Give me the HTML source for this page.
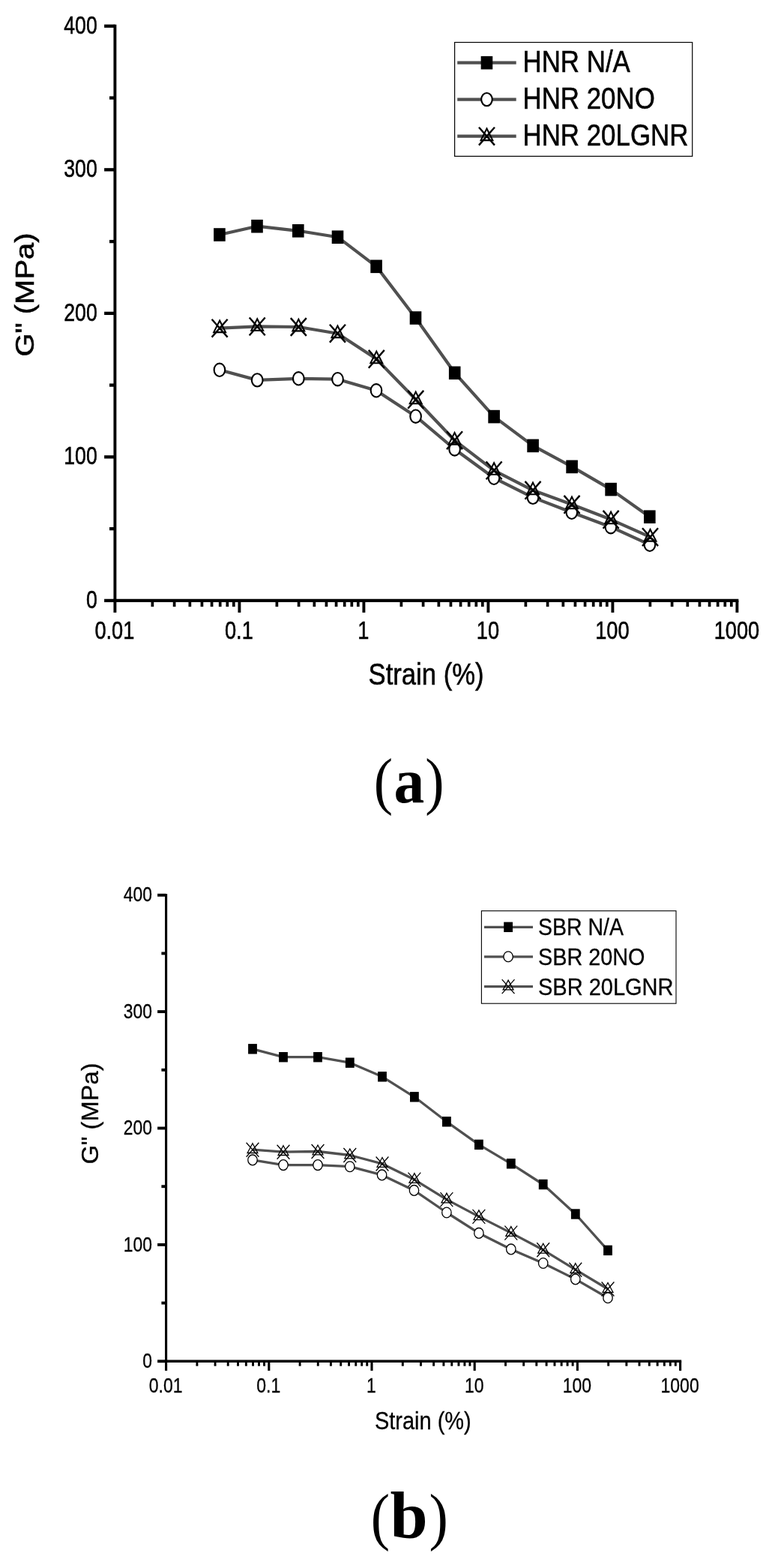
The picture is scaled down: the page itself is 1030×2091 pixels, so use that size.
<!DOCTYPE html>
<html lang="en"><head><meta charset="utf-8"><title>G&quot; vs Strain</title>
<style>html,body{margin:0;padding:0;background:#fff}svg{display:block}text{fill:#000}</style></head><body>
<svg width="1030" height="2091" viewBox="0 0 1030 2091">
<rect width="1030" height="2091" fill="#fff"/>
<g stroke="#000" fill="none" stroke-linecap="butt">
<line x1="153.40" y1="32.63" x2="153.40" y2="803.05" stroke-width="3.9"/>
<line x1="151.45" y1="800.90" x2="985.35" y2="800.90" stroke-width="4.3"/>
<line x1="139.10" y1="800.90" x2="153.40" y2="800.90" stroke-width="4.3"/>
<line x1="146.00" y1="705.13" x2="153.40" y2="705.13" stroke-width="4.3"/>
<line x1="139.10" y1="609.37" x2="153.40" y2="609.37" stroke-width="4.3"/>
<line x1="146.00" y1="513.61" x2="153.40" y2="513.61" stroke-width="4.3"/>
<line x1="139.10" y1="417.84" x2="153.40" y2="417.84" stroke-width="4.3"/>
<line x1="146.00" y1="322.07" x2="153.40" y2="322.07" stroke-width="4.3"/>
<line x1="139.10" y1="226.31" x2="153.40" y2="226.31" stroke-width="4.3"/>
<line x1="146.00" y1="130.54" x2="153.40" y2="130.54" stroke-width="4.3"/>
<line x1="139.10" y1="34.78" x2="153.40" y2="34.78" stroke-width="4.3"/>
<line x1="153.40" y1="800.90" x2="153.40" y2="816.90" stroke-width="3.9"/>
<line x1="203.37" y1="800.90" x2="203.37" y2="809.10" stroke-width="3.70"/>
<line x1="232.60" y1="800.90" x2="232.60" y2="809.10" stroke-width="3.70"/>
<line x1="253.34" y1="800.90" x2="253.34" y2="809.10" stroke-width="3.70"/>
<line x1="269.43" y1="800.90" x2="269.43" y2="809.10" stroke-width="3.70"/>
<line x1="282.57" y1="800.90" x2="282.57" y2="809.10" stroke-width="3.70"/>
<line x1="293.69" y1="800.90" x2="293.69" y2="809.10" stroke-width="3.70"/>
<line x1="303.31" y1="800.90" x2="303.31" y2="809.10" stroke-width="3.70"/>
<line x1="311.80" y1="800.90" x2="311.80" y2="809.10" stroke-width="3.70"/>
<line x1="319.40" y1="800.90" x2="319.40" y2="816.90" stroke-width="3.9"/>
<line x1="369.37" y1="800.90" x2="369.37" y2="809.10" stroke-width="3.70"/>
<line x1="398.60" y1="800.90" x2="398.60" y2="809.10" stroke-width="3.70"/>
<line x1="419.34" y1="800.90" x2="419.34" y2="809.10" stroke-width="3.70"/>
<line x1="435.43" y1="800.90" x2="435.43" y2="809.10" stroke-width="3.70"/>
<line x1="448.57" y1="800.90" x2="448.57" y2="809.10" stroke-width="3.70"/>
<line x1="459.69" y1="800.90" x2="459.69" y2="809.10" stroke-width="3.70"/>
<line x1="469.31" y1="800.90" x2="469.31" y2="809.10" stroke-width="3.70"/>
<line x1="477.80" y1="800.90" x2="477.80" y2="809.10" stroke-width="3.70"/>
<line x1="485.40" y1="800.90" x2="485.40" y2="816.90" stroke-width="3.9"/>
<line x1="535.37" y1="800.90" x2="535.37" y2="809.10" stroke-width="3.70"/>
<line x1="564.60" y1="800.90" x2="564.60" y2="809.10" stroke-width="3.70"/>
<line x1="585.34" y1="800.90" x2="585.34" y2="809.10" stroke-width="3.70"/>
<line x1="601.43" y1="800.90" x2="601.43" y2="809.10" stroke-width="3.70"/>
<line x1="614.57" y1="800.90" x2="614.57" y2="809.10" stroke-width="3.70"/>
<line x1="625.69" y1="800.90" x2="625.69" y2="809.10" stroke-width="3.70"/>
<line x1="635.31" y1="800.90" x2="635.31" y2="809.10" stroke-width="3.70"/>
<line x1="643.80" y1="800.90" x2="643.80" y2="809.10" stroke-width="3.70"/>
<line x1="651.40" y1="800.90" x2="651.40" y2="816.90" stroke-width="3.9"/>
<line x1="701.37" y1="800.90" x2="701.37" y2="809.10" stroke-width="3.70"/>
<line x1="730.60" y1="800.90" x2="730.60" y2="809.10" stroke-width="3.70"/>
<line x1="751.34" y1="800.90" x2="751.34" y2="809.10" stroke-width="3.70"/>
<line x1="767.43" y1="800.90" x2="767.43" y2="809.10" stroke-width="3.70"/>
<line x1="780.57" y1="800.90" x2="780.57" y2="809.10" stroke-width="3.70"/>
<line x1="791.69" y1="800.90" x2="791.69" y2="809.10" stroke-width="3.70"/>
<line x1="801.31" y1="800.90" x2="801.31" y2="809.10" stroke-width="3.70"/>
<line x1="809.80" y1="800.90" x2="809.80" y2="809.10" stroke-width="3.70"/>
<line x1="817.40" y1="800.90" x2="817.40" y2="816.90" stroke-width="3.9"/>
<line x1="867.37" y1="800.90" x2="867.37" y2="809.10" stroke-width="3.70"/>
<line x1="896.60" y1="800.90" x2="896.60" y2="809.10" stroke-width="3.70"/>
<line x1="917.34" y1="800.90" x2="917.34" y2="809.10" stroke-width="3.70"/>
<line x1="933.43" y1="800.90" x2="933.43" y2="809.10" stroke-width="3.70"/>
<line x1="946.57" y1="800.90" x2="946.57" y2="809.10" stroke-width="3.70"/>
<line x1="957.69" y1="800.90" x2="957.69" y2="809.10" stroke-width="3.70"/>
<line x1="967.31" y1="800.90" x2="967.31" y2="809.10" stroke-width="3.70"/>
<line x1="975.80" y1="800.90" x2="975.80" y2="809.10" stroke-width="3.70"/>
<line x1="983.40" y1="800.90" x2="983.40" y2="816.90" stroke-width="3.9"/>
</g>
<text transform="translate(129.70,811.00) scale(0.7830,1)" font-family='"Liberation Sans", Arial, sans-serif' font-size="34.00" font-weight="normal" text-anchor="end"  stroke="#000" stroke-width="0.6">0</text>
<text transform="translate(129.70,619.47) scale(0.7830,1)" font-family='"Liberation Sans", Arial, sans-serif' font-size="34.00" font-weight="normal" text-anchor="end"  stroke="#000" stroke-width="0.6">100</text>
<text transform="translate(129.70,427.94) scale(0.7830,1)" font-family='"Liberation Sans", Arial, sans-serif' font-size="34.00" font-weight="normal" text-anchor="end"  stroke="#000" stroke-width="0.6">200</text>
<text transform="translate(129.70,236.41) scale(0.7830,1)" font-family='"Liberation Sans", Arial, sans-serif' font-size="34.00" font-weight="normal" text-anchor="end"  stroke="#000" stroke-width="0.6">300</text>
<text transform="translate(129.70,44.88) scale(0.7830,1)" font-family='"Liberation Sans", Arial, sans-serif' font-size="34.00" font-weight="normal" text-anchor="end"  stroke="#000" stroke-width="0.6">400</text>
<text transform="translate(152.90,852.30) scale(0.8000,1)" font-family='"Liberation Sans", Arial, sans-serif' font-size="34.00" font-weight="normal" text-anchor="middle"  stroke="#000" stroke-width="0.6">0.01</text>
<text transform="translate(318.90,852.30) scale(0.8000,1)" font-family='"Liberation Sans", Arial, sans-serif' font-size="34.00" font-weight="normal" text-anchor="middle"  stroke="#000" stroke-width="0.6">0.1</text>
<text transform="translate(484.90,852.30) scale(0.8000,1)" font-family='"Liberation Sans", Arial, sans-serif' font-size="34.00" font-weight="normal" text-anchor="middle"  stroke="#000" stroke-width="0.6">1</text>
<text transform="translate(650.90,852.30) scale(0.8000,1)" font-family='"Liberation Sans", Arial, sans-serif' font-size="34.00" font-weight="normal" text-anchor="middle"  stroke="#000" stroke-width="0.6">10</text>
<text transform="translate(816.90,852.30) scale(0.8000,1)" font-family='"Liberation Sans", Arial, sans-serif' font-size="34.00" font-weight="normal" text-anchor="middle"  stroke="#000" stroke-width="0.6">100</text>
<text transform="translate(982.90,852.30) scale(0.8000,1)" font-family='"Liberation Sans", Arial, sans-serif' font-size="34.00" font-weight="normal" text-anchor="middle"  stroke="#000" stroke-width="0.6">1000</text>
<text transform="translate(568.60,912.70) scale(0.8540,1)" font-family='"Liberation Sans", Arial, sans-serif' font-size="40.60" font-weight="normal" text-anchor="middle"  stroke="#000" stroke-width="0.6">Strain (%)</text>
<text transform="translate(44.80,393.00) rotate(-90) scale(1.1170,1)" font-family='"Liberation Sans", Arial, sans-serif' font-size="35.80" font-weight="normal" text-anchor="middle"  stroke="#000" stroke-width="0.6">G&quot; (MPa)</text>
<polyline fill="none" stroke="#505050" stroke-width="4.2" stroke-linejoin="round" points="292.9,313.0 343.0,301.7 397.8,307.8 450.5,316.2 502.1,355.3 554.5,424.0 606.7,497.3 659.1,555.6 711.1,594.4 763.1,622.4 815.1,652.6 866.8,689.2"/>
<polyline fill="none" stroke="#505050" stroke-width="4.2" stroke-linejoin="round" points="293.1,437.7 343.2,435.4 398.3,436.0 450.4,444.7 502.3,478.8 554.7,532.8 606.5,587.2 659.1,627.4 711.0,653.8 763.0,672.8 815.1,692.8 867.5,716.2"/>
<polyline fill="none" stroke="#505050" stroke-width="4.2" stroke-linejoin="round" points="292.9,493.3 343.2,506.9 398.3,504.8 450.5,505.7 502.0,520.8 554.6,555.2 606.6,599.0 659.0,637.3 711.0,663.4 762.8,683.3 814.9,702.7 866.9,726.3"/>
<rect x="285.10" y="304.20" width="15.6" height="17.6" fill="#000"/>
<rect x="335.20" y="292.90" width="15.6" height="17.6" fill="#000"/>
<rect x="390.00" y="299.00" width="15.6" height="17.6" fill="#000"/>
<rect x="442.70" y="307.40" width="15.6" height="17.6" fill="#000"/>
<rect x="494.30" y="346.50" width="15.6" height="17.6" fill="#000"/>
<rect x="546.70" y="415.20" width="15.6" height="17.6" fill="#000"/>
<rect x="598.90" y="488.50" width="15.6" height="17.6" fill="#000"/>
<rect x="651.30" y="546.80" width="15.6" height="17.6" fill="#000"/>
<rect x="703.30" y="585.60" width="15.6" height="17.6" fill="#000"/>
<rect x="755.30" y="613.60" width="15.6" height="17.6" fill="#000"/>
<rect x="807.30" y="643.80" width="15.6" height="17.6" fill="#000"/>
<rect x="859.00" y="680.40" width="15.6" height="17.6" fill="#000"/>
<ellipse cx="292.90" cy="493.30" rx="7.3" ry="8.65" fill="#fff" stroke="#000" stroke-width="2.1"/>
<ellipse cx="343.20" cy="506.90" rx="7.3" ry="8.65" fill="#fff" stroke="#000" stroke-width="2.1"/>
<ellipse cx="398.30" cy="504.80" rx="7.3" ry="8.65" fill="#fff" stroke="#000" stroke-width="2.1"/>
<ellipse cx="450.50" cy="505.70" rx="7.3" ry="8.65" fill="#fff" stroke="#000" stroke-width="2.1"/>
<ellipse cx="502.00" cy="520.80" rx="7.3" ry="8.65" fill="#fff" stroke="#000" stroke-width="2.1"/>
<ellipse cx="554.60" cy="555.20" rx="7.3" ry="8.65" fill="#fff" stroke="#000" stroke-width="2.1"/>
<ellipse cx="606.60" cy="599.00" rx="7.3" ry="8.65" fill="#fff" stroke="#000" stroke-width="2.1"/>
<ellipse cx="659.00" cy="637.30" rx="7.3" ry="8.65" fill="#fff" stroke="#000" stroke-width="2.1"/>
<ellipse cx="711.00" cy="663.40" rx="7.3" ry="8.65" fill="#fff" stroke="#000" stroke-width="2.1"/>
<ellipse cx="762.80" cy="683.30" rx="7.3" ry="8.65" fill="#fff" stroke="#000" stroke-width="2.1"/>
<ellipse cx="814.90" cy="702.70" rx="7.3" ry="8.65" fill="#fff" stroke="#000" stroke-width="2.1"/>
<ellipse cx="866.90" cy="726.30" rx="7.3" ry="8.65" fill="#fff" stroke="#000" stroke-width="2.1"/>
<path d="M293.10,427.50 L301.00,443.10 L285.20,443.10 Z" fill="none" stroke="#000" stroke-width="2.1" stroke-linejoin="miter"/>
<path d="M282.60,425.80 L303.60,449.60 M303.60,425.80 L282.60,449.60" fill="none" stroke="#000" stroke-width="2.4"/>
<path d="M343.20,425.20 L351.10,440.80 L335.30,440.80 Z" fill="none" stroke="#000" stroke-width="2.1" stroke-linejoin="miter"/>
<path d="M332.70,423.50 L353.70,447.30 M353.70,423.50 L332.70,447.30" fill="none" stroke="#000" stroke-width="2.4"/>
<path d="M398.30,425.80 L406.20,441.40 L390.40,441.40 Z" fill="none" stroke="#000" stroke-width="2.1" stroke-linejoin="miter"/>
<path d="M387.80,424.10 L408.80,447.90 M408.80,424.10 L387.80,447.90" fill="none" stroke="#000" stroke-width="2.4"/>
<path d="M450.40,434.50 L458.30,450.10 L442.50,450.10 Z" fill="none" stroke="#000" stroke-width="2.1" stroke-linejoin="miter"/>
<path d="M439.90,432.80 L460.90,456.60 M460.90,432.80 L439.90,456.60" fill="none" stroke="#000" stroke-width="2.4"/>
<path d="M502.30,468.60 L510.20,484.20 L494.40,484.20 Z" fill="none" stroke="#000" stroke-width="2.1" stroke-linejoin="miter"/>
<path d="M491.80,466.90 L512.80,490.70 M512.80,466.90 L491.80,490.70" fill="none" stroke="#000" stroke-width="2.4"/>
<path d="M554.70,522.60 L562.60,538.20 L546.80,538.20 Z" fill="none" stroke="#000" stroke-width="2.1" stroke-linejoin="miter"/>
<path d="M544.20,520.90 L565.20,544.70 M565.20,520.90 L544.20,544.70" fill="none" stroke="#000" stroke-width="2.4"/>
<path d="M606.50,577.00 L614.40,592.60 L598.60,592.60 Z" fill="none" stroke="#000" stroke-width="2.1" stroke-linejoin="miter"/>
<path d="M596.00,575.30 L617.00,599.10 M617.00,575.30 L596.00,599.10" fill="none" stroke="#000" stroke-width="2.4"/>
<path d="M659.10,617.20 L667.00,632.80 L651.20,632.80 Z" fill="none" stroke="#000" stroke-width="2.1" stroke-linejoin="miter"/>
<path d="M648.60,615.50 L669.60,639.30 M669.60,615.50 L648.60,639.30" fill="none" stroke="#000" stroke-width="2.4"/>
<path d="M711.00,643.60 L718.90,659.20 L703.10,659.20 Z" fill="none" stroke="#000" stroke-width="2.1" stroke-linejoin="miter"/>
<path d="M700.50,641.90 L721.50,665.70 M721.50,641.90 L700.50,665.70" fill="none" stroke="#000" stroke-width="2.4"/>
<path d="M763.00,662.60 L770.90,678.20 L755.10,678.20 Z" fill="none" stroke="#000" stroke-width="2.1" stroke-linejoin="miter"/>
<path d="M752.50,660.90 L773.50,684.70 M773.50,660.90 L752.50,684.70" fill="none" stroke="#000" stroke-width="2.4"/>
<path d="M815.10,682.60 L823.00,698.20 L807.20,698.20 Z" fill="none" stroke="#000" stroke-width="2.1" stroke-linejoin="miter"/>
<path d="M804.60,680.90 L825.60,704.70 M825.60,680.90 L804.60,704.70" fill="none" stroke="#000" stroke-width="2.4"/>
<path d="M867.50,706.00 L875.40,721.60 L859.60,721.60 Z" fill="none" stroke="#000" stroke-width="2.1" stroke-linejoin="miter"/>
<path d="M857.00,704.30 L878.00,728.10 M878.00,704.30 L857.00,728.10" fill="none" stroke="#000" stroke-width="2.4"/>
<rect x="606.6" y="56.5" width="317.10" height="151.90" fill="#fff" stroke="#000" stroke-width="1.2"/>
<line x1="610.2" y1="83.7" x2="688.7" y2="83.7" stroke="#505050" stroke-width="4.2"/>
<rect x="641.65" y="74.90" width="15.6" height="17.6" fill="#000"/>
<text transform="translate(697.50,96.40) scale(0.8610,1)" font-family='"Liberation Sans", Arial, sans-serif' font-size="40.50" font-weight="normal" text-anchor="start"  stroke="#000" stroke-width="0.6">HNR N/A</text>
<line x1="610.2" y1="132.6" x2="688.7" y2="132.6" stroke="#505050" stroke-width="4.2"/>
<ellipse cx="649.45" cy="132.60" rx="7.3" ry="8.65" fill="#fff" stroke="#000" stroke-width="2.1"/>
<text transform="translate(697.50,145.00) scale(0.8610,1)" font-family='"Liberation Sans", Arial, sans-serif' font-size="40.50" font-weight="normal" text-anchor="start"  stroke="#000" stroke-width="0.6">HNR 20NO</text>
<line x1="610.2" y1="181.7" x2="688.7" y2="181.7" stroke="#505050" stroke-width="4.2"/>
<path d="M649.45,171.50 L657.35,187.10 L641.55,187.10 Z" fill="none" stroke="#000" stroke-width="2.1" stroke-linejoin="miter"/>
<path d="M638.95,169.80 L659.95,193.60 M659.95,169.80 L638.95,193.60" fill="none" stroke="#000" stroke-width="2.4"/>
<text transform="translate(697.50,193.60) scale(0.8610,1)" font-family='"Liberation Sans", Arial, sans-serif' font-size="40.50" font-weight="normal" text-anchor="start"  stroke="#000" stroke-width="0.6">HNR 20LGNR</text>
<g>
<text transform="translate(498.70,1070.00) scale(0.8900,1)" font-family='"Liberation Serif", "Times New Roman", serif' font-size="85.40" font-weight="normal" text-anchor="start" >(</text>
<text transform="translate(525.60,1070.00) scale(0.9700,1)" font-family='"Liberation Serif", "Times New Roman", serif' font-size="84.00" font-weight="bold" text-anchor="start" >a</text>
<text transform="translate(567.30,1070.00) scale(0.8900,1)" font-family='"Liberation Serif", "Times New Roman", serif' font-size="85.40" font-weight="normal" text-anchor="start" >)</text>
</g>
<g stroke="#000" fill="none" stroke-linecap="butt">
<line x1="221.60" y1="1191.95" x2="221.60" y2="1817.05" stroke-width="3.1"/>
<line x1="220.05" y1="1815.30" x2="909.15" y2="1815.30" stroke-width="3.5"/>
<line x1="210.10" y1="1815.30" x2="221.60" y2="1815.30" stroke-width="3.9"/>
<line x1="215.40" y1="1737.60" x2="221.60" y2="1737.60" stroke-width="3.9"/>
<line x1="210.10" y1="1659.90" x2="221.60" y2="1659.90" stroke-width="3.9"/>
<line x1="215.40" y1="1582.20" x2="221.60" y2="1582.20" stroke-width="3.9"/>
<line x1="210.10" y1="1504.50" x2="221.60" y2="1504.50" stroke-width="3.9"/>
<line x1="215.40" y1="1426.80" x2="221.60" y2="1426.80" stroke-width="3.9"/>
<line x1="210.10" y1="1349.10" x2="221.60" y2="1349.10" stroke-width="3.9"/>
<line x1="215.40" y1="1271.40" x2="221.60" y2="1271.40" stroke-width="3.9"/>
<line x1="210.10" y1="1193.70" x2="221.60" y2="1193.70" stroke-width="3.9"/>
<line x1="221.60" y1="1815.30" x2="221.60" y2="1827.90" stroke-width="3.1"/>
<line x1="262.90" y1="1815.30" x2="262.90" y2="1821.70" stroke-width="2.94"/>
<line x1="287.06" y1="1815.30" x2="287.06" y2="1821.70" stroke-width="2.94"/>
<line x1="304.20" y1="1815.30" x2="304.20" y2="1821.70" stroke-width="2.94"/>
<line x1="317.50" y1="1815.30" x2="317.50" y2="1821.70" stroke-width="2.94"/>
<line x1="328.36" y1="1815.30" x2="328.36" y2="1821.70" stroke-width="2.94"/>
<line x1="337.55" y1="1815.30" x2="337.55" y2="1821.70" stroke-width="2.94"/>
<line x1="345.50" y1="1815.30" x2="345.50" y2="1821.70" stroke-width="2.94"/>
<line x1="352.52" y1="1815.30" x2="352.52" y2="1821.70" stroke-width="2.94"/>
<line x1="358.80" y1="1815.30" x2="358.80" y2="1827.90" stroke-width="3.1"/>
<line x1="400.10" y1="1815.30" x2="400.10" y2="1821.70" stroke-width="2.94"/>
<line x1="424.26" y1="1815.30" x2="424.26" y2="1821.70" stroke-width="2.94"/>
<line x1="441.40" y1="1815.30" x2="441.40" y2="1821.70" stroke-width="2.94"/>
<line x1="454.70" y1="1815.30" x2="454.70" y2="1821.70" stroke-width="2.94"/>
<line x1="465.56" y1="1815.30" x2="465.56" y2="1821.70" stroke-width="2.94"/>
<line x1="474.75" y1="1815.30" x2="474.75" y2="1821.70" stroke-width="2.94"/>
<line x1="482.70" y1="1815.30" x2="482.70" y2="1821.70" stroke-width="2.94"/>
<line x1="489.72" y1="1815.30" x2="489.72" y2="1821.70" stroke-width="2.94"/>
<line x1="496.00" y1="1815.30" x2="496.00" y2="1827.90" stroke-width="3.1"/>
<line x1="537.30" y1="1815.30" x2="537.30" y2="1821.70" stroke-width="2.94"/>
<line x1="561.46" y1="1815.30" x2="561.46" y2="1821.70" stroke-width="2.94"/>
<line x1="578.60" y1="1815.30" x2="578.60" y2="1821.70" stroke-width="2.94"/>
<line x1="591.90" y1="1815.30" x2="591.90" y2="1821.70" stroke-width="2.94"/>
<line x1="602.76" y1="1815.30" x2="602.76" y2="1821.70" stroke-width="2.94"/>
<line x1="611.95" y1="1815.30" x2="611.95" y2="1821.70" stroke-width="2.94"/>
<line x1="619.90" y1="1815.30" x2="619.90" y2="1821.70" stroke-width="2.94"/>
<line x1="626.92" y1="1815.30" x2="626.92" y2="1821.70" stroke-width="2.94"/>
<line x1="633.20" y1="1815.30" x2="633.20" y2="1827.90" stroke-width="3.1"/>
<line x1="674.50" y1="1815.30" x2="674.50" y2="1821.70" stroke-width="2.94"/>
<line x1="698.66" y1="1815.30" x2="698.66" y2="1821.70" stroke-width="2.94"/>
<line x1="715.80" y1="1815.30" x2="715.80" y2="1821.70" stroke-width="2.94"/>
<line x1="729.10" y1="1815.30" x2="729.10" y2="1821.70" stroke-width="2.94"/>
<line x1="739.96" y1="1815.30" x2="739.96" y2="1821.70" stroke-width="2.94"/>
<line x1="749.15" y1="1815.30" x2="749.15" y2="1821.70" stroke-width="2.94"/>
<line x1="757.10" y1="1815.30" x2="757.10" y2="1821.70" stroke-width="2.94"/>
<line x1="764.12" y1="1815.30" x2="764.12" y2="1821.70" stroke-width="2.94"/>
<line x1="770.40" y1="1815.30" x2="770.40" y2="1827.90" stroke-width="3.1"/>
<line x1="811.70" y1="1815.30" x2="811.70" y2="1821.70" stroke-width="2.94"/>
<line x1="835.86" y1="1815.30" x2="835.86" y2="1821.70" stroke-width="2.94"/>
<line x1="853.00" y1="1815.30" x2="853.00" y2="1821.70" stroke-width="2.94"/>
<line x1="866.30" y1="1815.30" x2="866.30" y2="1821.70" stroke-width="2.94"/>
<line x1="877.16" y1="1815.30" x2="877.16" y2="1821.70" stroke-width="2.94"/>
<line x1="886.35" y1="1815.30" x2="886.35" y2="1821.70" stroke-width="2.94"/>
<line x1="894.30" y1="1815.30" x2="894.30" y2="1821.70" stroke-width="2.94"/>
<line x1="901.32" y1="1815.30" x2="901.32" y2="1821.70" stroke-width="2.94"/>
<line x1="907.60" y1="1815.30" x2="907.60" y2="1827.90" stroke-width="3.1"/>
</g>
<text transform="translate(203.00,1823.90) scale(0.8500,1)" font-family='"Liberation Sans", Arial, sans-serif' font-size="26.90" font-weight="normal" text-anchor="end"  stroke="#000" stroke-width="0.3">0</text>
<text transform="translate(203.00,1668.50) scale(0.8500,1)" font-family='"Liberation Sans", Arial, sans-serif' font-size="26.90" font-weight="normal" text-anchor="end"  stroke="#000" stroke-width="0.3">100</text>
<text transform="translate(203.00,1513.10) scale(0.8500,1)" font-family='"Liberation Sans", Arial, sans-serif' font-size="26.90" font-weight="normal" text-anchor="end"  stroke="#000" stroke-width="0.3">200</text>
<text transform="translate(203.00,1357.70) scale(0.8500,1)" font-family='"Liberation Sans", Arial, sans-serif' font-size="26.90" font-weight="normal" text-anchor="end"  stroke="#000" stroke-width="0.3">300</text>
<text transform="translate(203.00,1202.30) scale(0.8500,1)" font-family='"Liberation Sans", Arial, sans-serif' font-size="26.90" font-weight="normal" text-anchor="end"  stroke="#000" stroke-width="0.3">400</text>
<text transform="translate(221.10,1857.00) scale(0.8550,1)" font-family='"Liberation Sans", Arial, sans-serif' font-size="26.90" font-weight="normal" text-anchor="middle"  stroke="#000" stroke-width="0.3">0.01</text>
<text transform="translate(358.30,1857.00) scale(0.8550,1)" font-family='"Liberation Sans", Arial, sans-serif' font-size="26.90" font-weight="normal" text-anchor="middle"  stroke="#000" stroke-width="0.3">0.1</text>
<text transform="translate(495.50,1857.00) scale(0.8550,1)" font-family='"Liberation Sans", Arial, sans-serif' font-size="26.90" font-weight="normal" text-anchor="middle"  stroke="#000" stroke-width="0.3">1</text>
<text transform="translate(632.70,1857.00) scale(0.8550,1)" font-family='"Liberation Sans", Arial, sans-serif' font-size="26.90" font-weight="normal" text-anchor="middle"  stroke="#000" stroke-width="0.3">10</text>
<text transform="translate(769.90,1857.00) scale(0.8550,1)" font-family='"Liberation Sans", Arial, sans-serif' font-size="26.90" font-weight="normal" text-anchor="middle"  stroke="#000" stroke-width="0.3">100</text>
<text transform="translate(907.10,1857.00) scale(0.8550,1)" font-family='"Liberation Sans", Arial, sans-serif' font-size="26.90" font-weight="normal" text-anchor="middle"  stroke="#000" stroke-width="0.3">1000</text>
<text transform="translate(564.30,1906.30) scale(0.8830,1)" font-family='"Liberation Sans", Arial, sans-serif' font-size="32.80" font-weight="normal" text-anchor="middle"  stroke="#000" stroke-width="0.3">Strain (%)</text>
<text transform="translate(130.90,1485.00) rotate(-90) scale(1.0360,1)" font-family='"Liberation Sans", Arial, sans-serif' font-size="31.60" font-weight="normal" text-anchor="middle"  stroke="#000" stroke-width="0.3">G&quot; (MPa)</text>
<polyline fill="none" stroke="#505050" stroke-width="3.3" stroke-linejoin="round" points="337.0,1398.8 378.0,1409.7 424.0,1409.7 466.8,1417.2 510.0,1435.8 552.9,1462.8 595.9,1495.8 638.9,1526.4 681.8,1551.8 724.7,1579.5 767.8,1619.0 811.0,1667.4"/>
<polyline fill="none" stroke="#505050" stroke-width="3.3" stroke-linejoin="round" points="337.0,1533.2 378.0,1536.2 424.0,1535.5 466.8,1540.5 510.0,1552.0 552.9,1573.1 595.9,1599.6 638.9,1622.4 681.8,1644.1 724.7,1666.8 767.8,1693.2 811.0,1719.0"/>
<polyline fill="none" stroke="#505050" stroke-width="3.3" stroke-linejoin="round" points="337.0,1546.9 378.0,1553.6 424.0,1553.6 466.8,1555.7 509.6,1566.9 552.5,1587.4 595.9,1617.0 638.9,1644.4 681.8,1665.9 724.7,1684.5 767.8,1705.9 811.0,1730.8"/>
<rect x="331.10" y="1392.10" width="11.8" height="13.4" fill="#000"/>
<rect x="372.10" y="1403.00" width="11.8" height="13.4" fill="#000"/>
<rect x="418.10" y="1403.00" width="11.8" height="13.4" fill="#000"/>
<rect x="460.90" y="1410.50" width="11.8" height="13.4" fill="#000"/>
<rect x="504.10" y="1429.10" width="11.8" height="13.4" fill="#000"/>
<rect x="547.00" y="1456.10" width="11.8" height="13.4" fill="#000"/>
<rect x="590.00" y="1489.10" width="11.8" height="13.4" fill="#000"/>
<rect x="633.00" y="1519.70" width="11.8" height="13.4" fill="#000"/>
<rect x="675.90" y="1545.10" width="11.8" height="13.4" fill="#000"/>
<rect x="718.80" y="1572.80" width="11.8" height="13.4" fill="#000"/>
<rect x="761.90" y="1612.30" width="11.8" height="13.4" fill="#000"/>
<rect x="805.10" y="1660.70" width="11.8" height="13.4" fill="#000"/>
<ellipse cx="337.00" cy="1546.90" rx="6.2" ry="6.9" fill="#fff" stroke="#000" stroke-width="1.3"/>
<ellipse cx="378.00" cy="1553.60" rx="6.2" ry="6.9" fill="#fff" stroke="#000" stroke-width="1.3"/>
<ellipse cx="424.00" cy="1553.60" rx="6.2" ry="6.9" fill="#fff" stroke="#000" stroke-width="1.3"/>
<ellipse cx="466.80" cy="1555.70" rx="6.2" ry="6.9" fill="#fff" stroke="#000" stroke-width="1.3"/>
<ellipse cx="509.60" cy="1566.90" rx="6.2" ry="6.9" fill="#fff" stroke="#000" stroke-width="1.3"/>
<ellipse cx="552.50" cy="1587.40" rx="6.2" ry="6.9" fill="#fff" stroke="#000" stroke-width="1.3"/>
<ellipse cx="595.90" cy="1617.00" rx="6.2" ry="6.9" fill="#fff" stroke="#000" stroke-width="1.3"/>
<ellipse cx="638.90" cy="1644.40" rx="6.2" ry="6.9" fill="#fff" stroke="#000" stroke-width="1.3"/>
<ellipse cx="681.80" cy="1665.90" rx="6.2" ry="6.9" fill="#fff" stroke="#000" stroke-width="1.3"/>
<ellipse cx="724.70" cy="1684.50" rx="6.2" ry="6.9" fill="#fff" stroke="#000" stroke-width="1.3"/>
<ellipse cx="767.80" cy="1705.90" rx="6.2" ry="6.9" fill="#fff" stroke="#000" stroke-width="1.3"/>
<ellipse cx="811.00" cy="1730.80" rx="6.2" ry="6.9" fill="#fff" stroke="#000" stroke-width="1.3"/>
<path d="M337.00,1524.70 L343.90,1537.50 L330.10,1537.50 Z" fill="none" stroke="#000" stroke-width="1.3" stroke-linejoin="miter"/>
<path d="M328.60,1523.70 L345.40,1542.70 M345.40,1523.70 L328.60,1542.70" fill="none" stroke="#000" stroke-width="1.3"/>
<path d="M378.00,1527.70 L384.90,1540.50 L371.10,1540.50 Z" fill="none" stroke="#000" stroke-width="1.3" stroke-linejoin="miter"/>
<path d="M369.60,1526.70 L386.40,1545.70 M386.40,1526.70 L369.60,1545.70" fill="none" stroke="#000" stroke-width="1.3"/>
<path d="M424.00,1527.00 L430.90,1539.80 L417.10,1539.80 Z" fill="none" stroke="#000" stroke-width="1.3" stroke-linejoin="miter"/>
<path d="M415.60,1526.00 L432.40,1545.00 M432.40,1526.00 L415.60,1545.00" fill="none" stroke="#000" stroke-width="1.3"/>
<path d="M466.80,1532.00 L473.70,1544.80 L459.90,1544.80 Z" fill="none" stroke="#000" stroke-width="1.3" stroke-linejoin="miter"/>
<path d="M458.40,1531.00 L475.20,1550.00 M475.20,1531.00 L458.40,1550.00" fill="none" stroke="#000" stroke-width="1.3"/>
<path d="M510.00,1543.50 L516.90,1556.30 L503.10,1556.30 Z" fill="none" stroke="#000" stroke-width="1.3" stroke-linejoin="miter"/>
<path d="M501.60,1542.50 L518.40,1561.50 M518.40,1542.50 L501.60,1561.50" fill="none" stroke="#000" stroke-width="1.3"/>
<path d="M552.90,1564.60 L559.80,1577.40 L546.00,1577.40 Z" fill="none" stroke="#000" stroke-width="1.3" stroke-linejoin="miter"/>
<path d="M544.50,1563.60 L561.30,1582.60 M561.30,1563.60 L544.50,1582.60" fill="none" stroke="#000" stroke-width="1.3"/>
<path d="M595.90,1591.10 L602.80,1603.90 L589.00,1603.90 Z" fill="none" stroke="#000" stroke-width="1.3" stroke-linejoin="miter"/>
<path d="M587.50,1590.10 L604.30,1609.10 M604.30,1590.10 L587.50,1609.10" fill="none" stroke="#000" stroke-width="1.3"/>
<path d="M638.90,1613.90 L645.80,1626.70 L632.00,1626.70 Z" fill="none" stroke="#000" stroke-width="1.3" stroke-linejoin="miter"/>
<path d="M630.50,1612.90 L647.30,1631.90 M647.30,1612.90 L630.50,1631.90" fill="none" stroke="#000" stroke-width="1.3"/>
<path d="M681.80,1635.60 L688.70,1648.40 L674.90,1648.40 Z" fill="none" stroke="#000" stroke-width="1.3" stroke-linejoin="miter"/>
<path d="M673.40,1634.60 L690.20,1653.60 M690.20,1634.60 L673.40,1653.60" fill="none" stroke="#000" stroke-width="1.3"/>
<path d="M724.70,1658.30 L731.60,1671.10 L717.80,1671.10 Z" fill="none" stroke="#000" stroke-width="1.3" stroke-linejoin="miter"/>
<path d="M716.30,1657.30 L733.10,1676.30 M733.10,1657.30 L716.30,1676.30" fill="none" stroke="#000" stroke-width="1.3"/>
<path d="M767.80,1684.70 L774.70,1697.50 L760.90,1697.50 Z" fill="none" stroke="#000" stroke-width="1.3" stroke-linejoin="miter"/>
<path d="M759.40,1683.70 L776.20,1702.70 M776.20,1683.70 L759.40,1702.70" fill="none" stroke="#000" stroke-width="1.3"/>
<path d="M811.00,1710.50 L817.90,1723.30 L804.10,1723.30 Z" fill="none" stroke="#000" stroke-width="1.3" stroke-linejoin="miter"/>
<path d="M802.60,1709.50 L819.40,1728.50 M819.40,1709.50 L802.60,1728.50" fill="none" stroke="#000" stroke-width="1.3"/>
<rect x="642.4" y="1214.7" width="259.60" height="123.50" fill="#fff" stroke="#000" stroke-width="1.1"/>
<line x1="646.0" y1="1236.3" x2="711.0" y2="1236.3" stroke="#505050" stroke-width="3.3"/>
<rect x="672.20" y="1229.60" width="11.8" height="13.4" fill="#000"/>
<text transform="translate(718.00,1246.80) scale(0.9110,1)" font-family='"Liberation Sans", Arial, sans-serif' font-size="31.30" font-weight="normal" text-anchor="start"  stroke="#000" stroke-width="0.3">SBR N/A</text>
<line x1="646.0" y1="1275.8" x2="711.0" y2="1275.8" stroke="#505050" stroke-width="3.3"/>
<ellipse cx="678.10" cy="1275.80" rx="6.2" ry="6.9" fill="#fff" stroke="#000" stroke-width="1.3"/>
<text transform="translate(718.00,1286.50) scale(0.9210,1)" font-family='"Liberation Sans", Arial, sans-serif' font-size="31.30" font-weight="normal" text-anchor="start"  stroke="#000" stroke-width="0.3">SBR 20NO</text>
<line x1="646.0" y1="1315.6" x2="711.0" y2="1315.6" stroke="#505050" stroke-width="3.3"/>
<path d="M678.10,1307.10 L685.00,1319.90 L671.20,1319.90 Z" fill="none" stroke="#000" stroke-width="1.3" stroke-linejoin="miter"/>
<path d="M669.70,1306.10 L686.50,1325.10 M686.50,1306.10 L669.70,1325.10" fill="none" stroke="#000" stroke-width="1.3"/>
<text transform="translate(718.00,1326.50) scale(0.9270,1)" font-family='"Liberation Sans", Arial, sans-serif' font-size="31.30" font-weight="normal" text-anchor="start"  stroke="#000" stroke-width="0.3">SBR 20LGNR</text>
<g>
<text transform="translate(494.70,2051.00) scale(0.8900,1)" font-family='"Liberation Serif", "Times New Roman", serif' font-size="85.40" font-weight="normal" text-anchor="start" >(</text>
<text transform="translate(520.60,2051.00) scale(1.0200,1)" font-family='"Liberation Serif", "Times New Roman", serif' font-size="88.50" font-weight="bold" text-anchor="start" >b</text>
<text transform="translate(572.50,2051.00) scale(0.8900,1)" font-family='"Liberation Serif", "Times New Roman", serif' font-size="85.40" font-weight="normal" text-anchor="start" >)</text>
</g>
</svg></body></html>
